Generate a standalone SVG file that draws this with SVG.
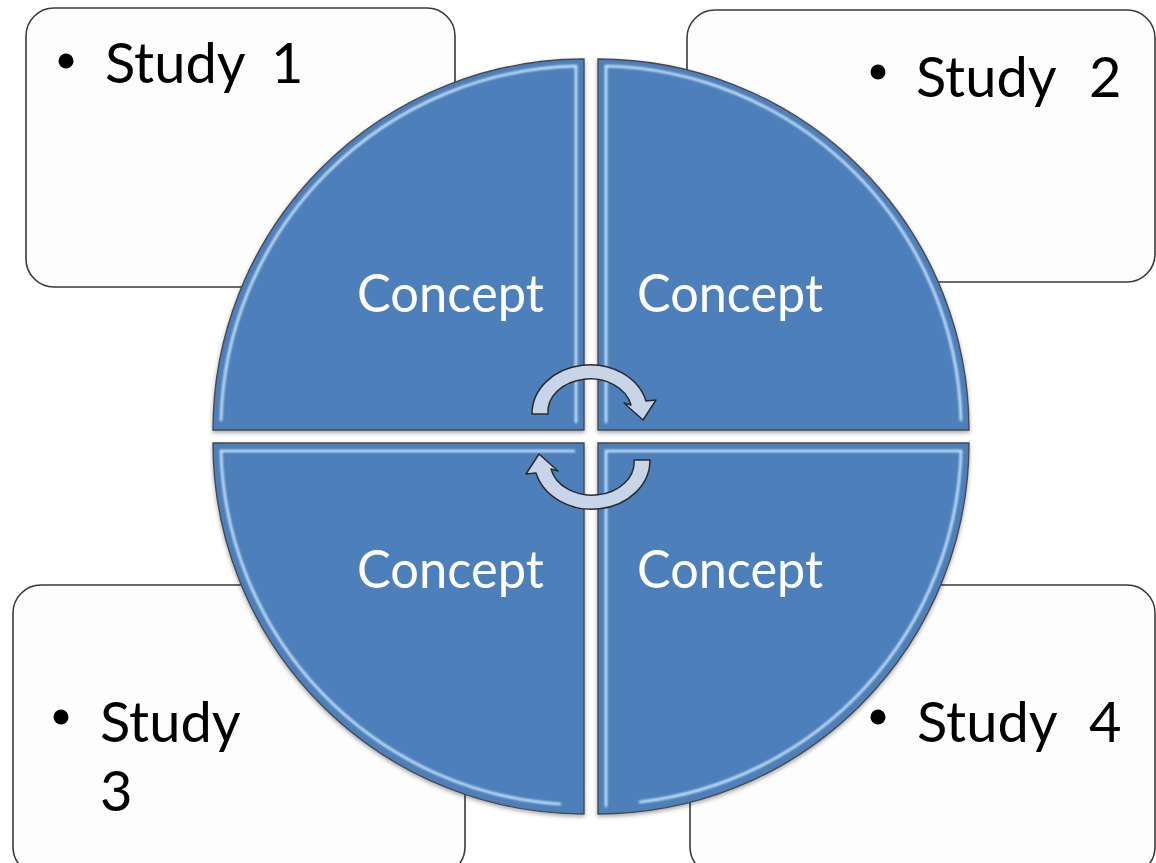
<svg xmlns="http://www.w3.org/2000/svg" width="1156" height="863" viewBox="0 0 1156 863">
<style>
.box{fill:#fdfdfd;stroke:#3a3a3a;stroke-width:1.6}
.quad{fill:#4e7fba;stroke:#4a4a4a;stroke-width:1.4}
.hl{fill:none;stroke:#d2ecff;stroke-width:2.6;opacity:0.95;stroke-linecap:round}
.hl2{fill:none;stroke:#9cc3ea;stroke-width:2;opacity:0.7}
.study{font-family:Lato,"Liberation Sans",sans-serif;font-size:56px;fill:#000}
.concept{font-family:Lato,"Liberation Sans",sans-serif;font-size:52px;fill:#fff}
.arr{fill:#c8d5e8;stroke:#2b2b2b;stroke-width:1.5;stroke-linejoin:round}
</style>
<defs>
<filter id="sh" x="-10%" y="-10%" width="120%" height="120%">
<feDropShadow dx="0" dy="2" stdDeviation="2" flood-color="#000" flood-opacity="0.35"/>
</filter>
<filter id="bl" x="-5%" y="-5%" width="110%" height="110%">
<feGaussianBlur stdDeviation="1"/>
</filter>
</defs>
<rect width="1156" height="863" fill="#ffffff"/>
<g id="box1"><rect class="box" x="26" y="8" width="429" height="279" rx="28"/></g>
<g id="box2"><rect class="box" x="687" y="10" width="468" height="272" rx="28"/></g>
<g id="box3"><rect class="box" x="13" y="585" width="452" height="290" rx="28"/></g>
<g id="box4"><rect class="box" x="690" y="585" width="465" height="290" rx="28"/></g>

<g id="quadrant1">
<path class="quad" filter="url(#sh)" d="M584,430 L213,430 A371,371 0 0 1 584,59 Z"/>
<path class="hl2" filter="url(#bl)" d="M222,424 L574,424"/>
<path class="hl" filter="url(#bl)" d="M221,420 A364,364 0 0 1 576,66 L576,422"/>
<text class="concept" x="357" y="312" textLength="187" lengthAdjust="spacingAndGlyphs">Concept</text>
</g>
<g id="quadrant2">
<path class="quad" filter="url(#sh)" d="M598,430 L598,59 A371,371 0 0 1 969,430 Z"/>
<path class="hl2" filter="url(#bl)" d="M608,424 L960,424"/>
<path class="hl" filter="url(#bl)" d="M606,422 L606,66 A364,364 0 0 1 961,420"/>
<text class="concept" x="637" y="312" textLength="186" lengthAdjust="spacingAndGlyphs">Concept</text>
</g>
<g id="quadrant3">
<path class="quad" filter="url(#sh)" d="M584,443 L584,814 A371,371 0 0 1 213,443 Z"/>
<path class="hl2" filter="url(#bl)" d="M576,452 L576,804"/>
<path class="hl" filter="url(#bl)" d="M574,451 L221,451 A363,363 0 0 0 560,804"/>
<text class="concept" x="357" y="588" textLength="187" lengthAdjust="spacingAndGlyphs">Concept</text>
</g>
<g id="quadrant4">
<path class="quad" filter="url(#sh)" d="M598,443 L969,443 A371,371 0 0 1 598,814 Z"/>
<path class="hl" filter="url(#bl)" d="M606,806 L606,451 L961,451 A363,363 0 0 1 640,802"/>
<text class="concept" x="637" y="588" textLength="186" lengthAdjust="spacingAndGlyphs">Concept</text>
</g>

<g id="connectors">
<path id="arrowTop" class="arr" d="M532,414 A58,49 0 0 1 646,401 L656,400 L643,420 L624,403 L631,405 A42,33 0 0 0 548,414 Z"/>
<path id="arrowBottom" class="arr" transform="rotate(180 591 437)" d="M532,414 A58,49 0 0 1 646,401 L656,400 L643,420 L624,403 L631,405 A42,33 0 0 0 548,414 Z"/>
</g>

<g id="label1">
<circle cx="66" cy="61" r="7.5"/>
<text class="study" x="105" y="83">Study</text>
<text class="study" x="271" y="83">1</text>
</g>
<g id="label2">
<circle cx="878" cy="72" r="7.5"/>
<text class="study" x="916" y="97">Study</text>
<text class="study" x="1089" y="97">2</text>
</g>
<g id="label3">
<circle cx="61" cy="717" r="7.5"/>
<text class="study" x="100" y="742">Study</text>
<text class="study" x="100" y="811">3</text>
</g>
<g id="label4">
<circle cx="878" cy="717" r="7.5"/>
<text class="study" x="917" y="742">Study</text>
<text class="study" x="1089" y="742">4</text>
</g>
</svg>
